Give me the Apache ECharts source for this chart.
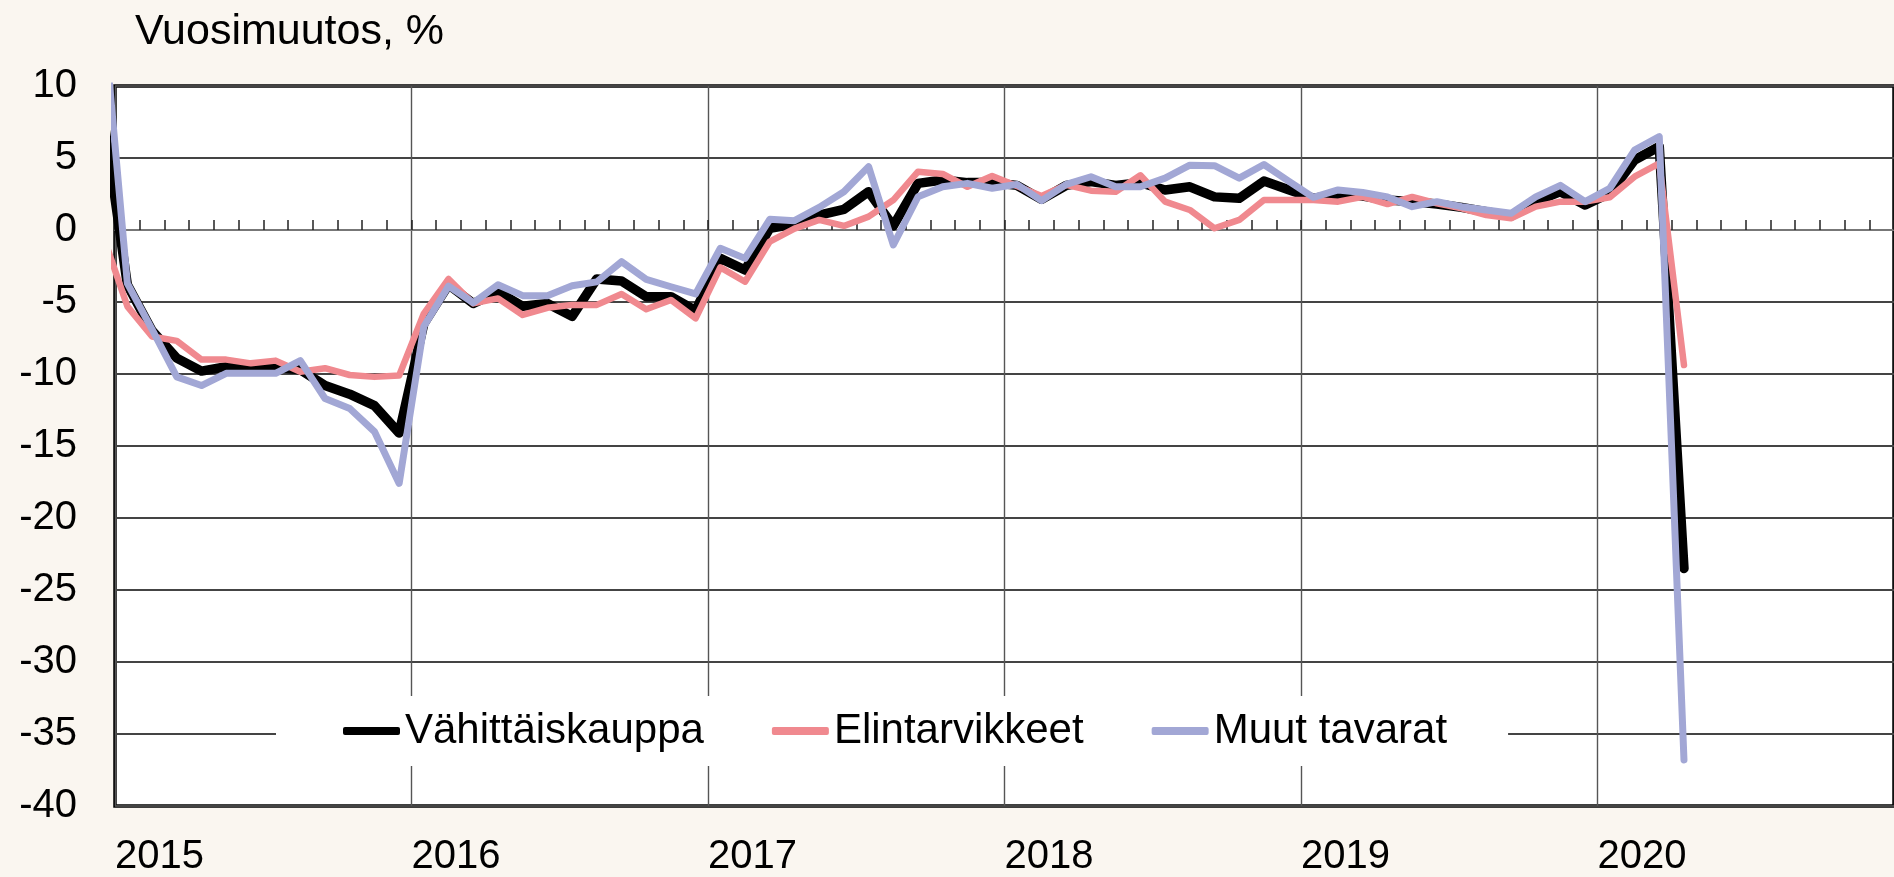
<!DOCTYPE html>
<html>
<head>
<meta charset="utf-8">
<script src="https://cdn.jsdelivr.net/npm/echarts@6/dist/echarts.min.js"></script>
<style>
  html, body { margin: 0; padding: 0; background: #faf6f0; }
  #main { width: 1894px; height: 877px; }
</style>
</head>
<body>
<div id="main"></div>
<script>
// monthly values, first entry = Dec 2014 (only its line end shows), then Jan 2015 .. Apr 2020
const firstMonth = { year: 2014, month: 12 };
const yearLabels = ['2015', '2016', '2017', '2018', '2019', '2020'];
const seriesNames = ['Vähittäiskauppa', 'Elintarvikkeet', 'Muut tavarat'];

const retail = [8.2,
  -3.8, -7.0, -8.9, -9.8, -9.5, -9.6, -9.55, -9.7, -10.8, -11.4, -12.2, -14.1,
  -6.5, -3.8, -5.1, -4.3, -5.3, -5.1, -6.0, -3.4, -3.54, -4.63, -4.63, -5.6,
  -1.97, -2.78, 0.12, 0.42, 1.04, 1.44, 2.66, 0.28, 3.24, 3.47, 3.29, 3.29,
  3.1, 2.13, 3.1, 3.36, 3.1, 3.29, 2.78, 3.0, 2.3, 2.2, 3.4, 2.8,
  2.2, 2.5, 2.36, 2.08, 1.97, 1.8, 1.57, 1.27, 0.97, 1.97, 2.66, 1.74,
  2.55, 4.86, 5.8, -23.5];

const food = [-0.3,
  -5.3, -7.4, -7.7, -9.0, -9.0, -9.26, -9.07, -9.84, -9.6, -10.07, -10.2, -10.1,
  -5.8, -3.4, -5.1, -4.75, -5.9, -5.4, -5.2, -5.2, -4.44, -5.5, -4.86, -6.13,
  -2.6, -3.59, -0.8, 0.1, 0.7, 0.28, 0.93, 2.08, 4.05, 3.89, 3.0, 3.75,
  3.06, 2.36, 3.13, 2.73, 2.66, 3.8, 1.97, 1.39, 0.12, 0.7, 2.08, 2.08,
  2.08, 1.97, 2.3, 1.8, 2.3, 1.85, 1.5, 1.04, 0.81, 1.62, 1.97, 1.97,
  2.27, 3.7, 4.63, -9.38];

const otherGoods = [15.5,
  -3.7, -6.9, -10.2, -10.8, -9.95, -9.95, -9.95, -9.07, -11.7, -12.4, -14.0, -17.6,
  -6.7, -3.9, -5.05, -3.8, -4.56, -4.56, -3.87, -3.6, -2.2, -3.43, -3.94, -4.44,
  -1.27, -1.97, 0.74, 0.65, 1.57, 2.66, 4.4, -1.04, 2.31, 3.0, 3.24, 2.9,
  3.17, 2.04, 3.17, 3.7, 3.0, 3.0, 3.6, 4.5, 4.47, 3.6, 4.55, 3.4,
  2.27, 2.78, 2.6, 2.3, 1.62, 1.97, 1.62, 1.39, 1.16, 2.3, 3.1, 1.97,
  2.9, 5.55, 6.48, -36.8];

const colors = ['#000000', '#f0898f', '#a2a7d5'];
const widths = [9.5, 6.5, 7];
const FONT = '"Liberation Sans", Arial, sans-serif';

// x = months since Jan 2015, each value plotted at the middle of its month
const startOffset = (firstMonth.year - 2015) * 12 + (firstMonth.month - 1);
function toPoints(arr) {
  return arr.map((v, i) => [startOffset + i + 0.5, v]);
}

const chart = echarts.init(document.getElementById('main'));

const option = {
  backgroundColor: '#faf6f0',
  animation: false,
  textStyle: { fontFamily: FONT },
  title: {
    text: 'Vuosimuutos, %',
    left: 130,
    top: 6,
    textStyle: { fontSize: 43, fontWeight: 'normal', color: '#000', fontFamily: FONT }
  },
  legend: {
    data: seriesNames.map((n, k) => ({ name: n, icon: 'roundRect', itemStyle: { color: colors[k] } })),
    left: 276,
    top: 696,
    padding: [14, 61, 14, 67],
    backgroundColor: '#ffffff',
    itemWidth: 57,
    itemHeight: 8,
    itemGap: 68,
    textStyle: { fontSize: 42, color: '#000', fontFamily: FONT }
  },
  grid: {
    left: 115,
    top: 86,
    right: -21,
    bottom: 71,
    show: true,
    backgroundColor: '#ffffff',
    borderColor: '#000',
    borderWidth: 3.5
  },
  xAxis: [{
    type: 'value',
    min: 0,
    max: 72,
    interval: 12,
    position: 'bottom',
    axisLine: { show: false, onZero: false },
    axisTick: { show: false },
    axisLabel: {
      fontSize: 40,
      color: '#000',
      align: 'left',
      margin: 31,
      showMaxLabel: false,
      formatter: v => yearLabels[v / 12] || ''
    },
    splitLine: { show: true, lineStyle: { color: '#555', width: 1.4 } }
  }, {
    type: 'value',
    min: 0,
    max: 72,
    interval: 1,
    position: 'top',
    axisLine: { show: true, onZero: true, lineStyle: { color: '#777', width: 2 } },
    axisTick: { show: true, length: 10, lineStyle: { color: '#222', width: 1.5 } },
    axisLabel: { show: false },
    splitLine: { show: false }
  }],
  yAxis: {
    type: 'value',
    min: -40,
    max: 10,
    interval: 5,
    axisLine: { show: false },
    axisTick: { show: false },
    axisLabel: { fontSize: 40, color: '#000', margin: 38 },
    splitLine: { show: true, lineStyle: { color: '#444', width: 1.8 } }
  },
  series: [retail, food, otherGoods].map((arr, k) => ({
    name: seriesNames[k],
    type: 'line',
    xAxisIndex: 0,
    data: toPoints(arr),
    symbol: 'none',
    clip: true,
    color: colors[k],
    lineStyle: { color: colors[k], width: widths[k], cap: 'round', join: 'round' },
    z: 3 + k
  }))
};

chart.setOption(option);
</script>
</body>
</html>
